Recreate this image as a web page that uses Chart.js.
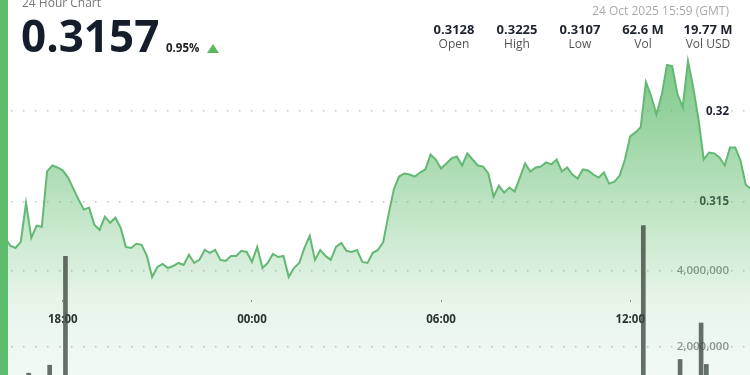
<!DOCTYPE html>
<html>
<head>
<meta charset="utf-8">
<script src="https://cdn.jsdelivr.net/npm/chart.js@4.4.0/dist/chart.umd.min.js"></script>
<style>
  html, body { margin: 0; padding: 0; }
  body { width: 750px; height: 375px; overflow: hidden; background: #fff; position: relative; font-family: "Open Sans", sans-serif; }
  /* lệch 1px để vùng vẽ khớp mép trang (Chart.js giữ 1px cho nét line) */
  #chart { position: absolute; left: -1px; top: -1px; }
  .side { position: absolute; left: 0; top: 0; width: 8px; height: 375px; background: #5dbb6c; }
  .title { position: absolute; left: 22px; top: -3px; font-size: 12px; line-height: 12px; color: #777; }
  .price { position: absolute; left: 21px; top: 13px; font-size: 44px; line-height: 44px; font-weight: 700; color: #151c2a; }
  .change { position: absolute; left: 166px; top: 42px; font-size: 11.5px; line-height: 11.5px; font-weight: 700; color: #222; }
  .arrow { position: absolute; left: 207px; top: 44px; width: 0; height: 0;
           border-left: 6.5px solid transparent; border-right: 6.5px solid transparent; border-bottom: 9px solid #5cb85c; }
  .date { position: absolute; right: 21px; top: 5px; font-size: 12px; line-height: 12px; color: #aaa; }
  .stat { position: absolute; top: 23px; width: 70px; text-align: center; }
  .stat b { display: block; font-size: 13px; line-height: 13px; color: #1e2330; }
  .stat span { display: block; margin-top: 2px; font-size: 12px; line-height: 12px; color: #555; }
</style>
</head>
<body>
<canvas id="chart" width="752" height="424"></canvas>
<div class="side"></div>
<div class="title">24 Hour Chart</div>
<div class="price">0.3157</div>
<div class="change">0.95%</div>
<div class="arrow"></div>
<div class="date">24 Oct 2025 15:59 (GMT)</div>
<div class="stat" style="left:419px"><b>0.3128</b><span>Open</span></div>
<div class="stat" style="left:482px"><b>0.3225</b><span>High</span></div>
<div class="stat" style="left:545px"><b>0.3107</b><span>Low</span></div>
<div class="stat" style="left:608px"><b>62.6 M</b><span>Vol</span></div>
<div class="stat" style="left:673px"><b>19.77 M</b><span>Vol USD</span></div>
<script>
// Dữ liệu giá mỗi 10 phút, bắt đầu từ 16:00
const startTime = "16:00";
const stepMinutes = 10;
const prices = [
    0.31311, 0.31300, 0.31256, 0.31244, 0.31278, 0.31494, 0.31300, 0.31367, 0.31361, 0.31667,
    0.31700, 0.31689, 0.31672, 0.31633, 0.31572, 0.31511, 0.31456, 0.31467, 0.31372, 0.31344,
    0.31417, 0.31383, 0.31411, 0.31356, 0.31250, 0.31244, 0.31267, 0.31261, 0.31200, 0.31083,
    0.31139, 0.31156, 0.31133, 0.31144, 0.31161, 0.31150, 0.31206, 0.31161, 0.31178, 0.31233,
    0.31217, 0.31233, 0.31178, 0.31172, 0.31200, 0.31200, 0.31228, 0.31222, 0.31167, 0.31250,
    0.31133, 0.31161, 0.31211, 0.31194, 0.31200, 0.31083, 0.31133, 0.31161, 0.31244, 0.31311,
    0.31178, 0.31233, 0.31200, 0.31178, 0.31250, 0.31272, 0.31228, 0.31222, 0.31233, 0.31167,
    0.31161, 0.31217, 0.31233, 0.31278, 0.31428, 0.31567, 0.31639, 0.31656, 0.31650, 0.31639,
    0.31661, 0.31678, 0.31761, 0.31733, 0.31683, 0.31711, 0.31739, 0.31750, 0.31700, 0.31767,
    0.31733, 0.31700, 0.31694, 0.31656, 0.31528, 0.31589, 0.31550, 0.31578, 0.31556, 0.31633,
    0.31711, 0.31667, 0.31689, 0.31694, 0.31717, 0.31706, 0.31733, 0.31667, 0.31689, 0.31650,
    0.31628, 0.31678, 0.31672, 0.31650, 0.31633, 0.31661, 0.31600, 0.31611, 0.31644, 0.31733,
    0.31861, 0.31883, 0.31911, 0.32161, 0.32083, 0.31983, 0.32089, 0.32256, 0.32250, 0.32094,
    0.32022, 0.32278, 0.32133, 0.31956, 0.31733, 0.31772, 0.31767, 0.31744, 0.31700, 0.31800,
    0.31800, 0.31728, 0.31594, 0.31570
];

// Khối lượng (chỉ các cột nhìn thấy được)
const volumeTimes = ["16:55", "17:35", "18:05", "12:25", "13:35", "14:15", "14:25"];
const volumeValues = [1310000, 1520000, 4380000, 5190000, 1670000, 2630000, 1540000];

const timeTicks = ["18:00", "00:00", "06:00", "12:00"];
const priceTicks = [0.315, 0.32];
const volumeTicks = [2000000, 4000000];

// Số phút tính từ thời điểm bắt đầu
function minutesFromStart(t) {
    const [h, m] = t.split(":").map(Number);
    const [sh, sm] = startTime.split(":").map(Number);
    let d = h * 60 + m - (sh * 60 + sm);
    if (d < 0) d += 1440;
    return d;
}

function timeLabel(v) {
    const [sh, sm] = startTime.split(":").map(Number);
    const total = (sh * 60 + sm + v) % 1440;
    const h = Math.floor(total / 60), m = total % 60;
    return String(h).padStart(2, "0") + ":" + String(m).padStart(2, "0");
}

function fillGradient(context) {
    const { ctx, chartArea } = context.chart;
    if (!chartArea) return "rgba(92,186,106,0.3)";
    const g = ctx.createLinearGradient(0, chartArea.top, 0, chartArea.bottom);
    g.addColorStop(0, "rgba(92,186,106,0.85)");
    g.addColorStop(0.14, "rgba(92,186,106,0.8)");
    g.addColorStop(0.47, "rgba(92,186,106,0.42)");
    g.addColorStop(0.71, "rgba(92,186,106,0.15)");
    g.addColorStop(1, "rgba(92,186,106,0.03)");
    return g;
}

const noPad = (s) => { s.paddingTop = 0; s.paddingBottom = 0; s.paddingLeft = 0; s.paddingRight = 0; };

function createChart() {
    const ctx = document.getElementById("chart").getContext("2d");

    new Chart(ctx, {
        data: {
            datasets: [{
                type: "bar",
                data: volumeTimes.map((t, i) => ({ x: minutesFromStart(t), y: volumeValues[i] })),
                yAxisID: "vol",
                backgroundColor: "rgba(60,72,62,0.78)",
                barThickness: 4,
                order: 0
            }, {
                type: "line",
                data: prices.map((p, i) => ({ x: i * stepMinutes, y: p })),
                yAxisID: "y",
                borderColor: "#63b873",
                borderWidth: 2,
                backgroundColor: fillGradient,
                fill: "start",
                tension: 0,
                pointRadius: 0,
                order: 1
            }]
        },
        options: {
            responsive: false,
            animation: false,
            events: [],
            layout: { padding: 0 },
            plugins: { legend: { display: false }, tooltip: { enabled: false } },
            scales: {
                x: {
                    type: "linear",
                    offset: false,
                    min: -1.5,
                    max: 1430,
                    position: { y: 0.30954 },
                    afterFit: (s) => { s.height = 0; noPad(s); },
                    afterBuildTicks: (s) => { s.ticks = timeTicks.map(t => ({ value: minutesFromStart(t) })); },
                    grid: { offset: false, drawOnChartArea: false, drawTicks: true, tickLength: 2, tickColor: "#888" },
                    border: { display: false },
                    ticks: {
                        autoSkip: false, maxRotation: 0, padding: 10, color: "#222",
                        font: { family: "Open Sans", size: 11.5, weight: "bold" },
                        callback: (v) => timeLabel(v)
                    }
                },
                y: {
                    type: "linear",
                    position: "right",
                    min: 0.302761,
                    max: 0.326206,
                    z: 1,
                    afterFit: (s) => { s.width = 0; noPad(s); },
                    afterBuildTicks: (s) => { s.ticks = priceTicks.map(v => ({ value: v })); },
                    grid: { color: "#c2c2c2", lineWidth: 1.5, drawTicks: false },
                    border: { display: false, dash: [1.5, 10.5] },
                    ticks: {
                        mirror: true, padding: -22, color: "#1f2430",
                        font: { family: "Open Sans", size: 11.5, weight: "bold" },
                        callback: (v) => String(v)
                    }
                },
                vol: {
                    type: "linear",
                    position: "right",
                    min: 0,
                    max: 11150000,
                    afterFit: (s) => { s.width = 0; noPad(s); },
                    afterBuildTicks: (s) => { s.ticks = volumeTicks.map(v => ({ value: v })); },
                    grid: { color: "#c2c2c2", lineWidth: 1.5, drawTicks: false },
                    border: { display: false, dash: [1.5, 10.5] },
                    ticks: {
                        mirror: true, padding: -22, color: "#8f8f8f",
                        font: { family: "Open Sans", size: 11.5, weight: "600" },
                        callback: (v) => v.toLocaleString("en-US")
                    }
                }
            }
        }
    });
}

document.addEventListener("DOMContentLoaded", () => {
    createChart();
});
</script>
</body>
</html>
